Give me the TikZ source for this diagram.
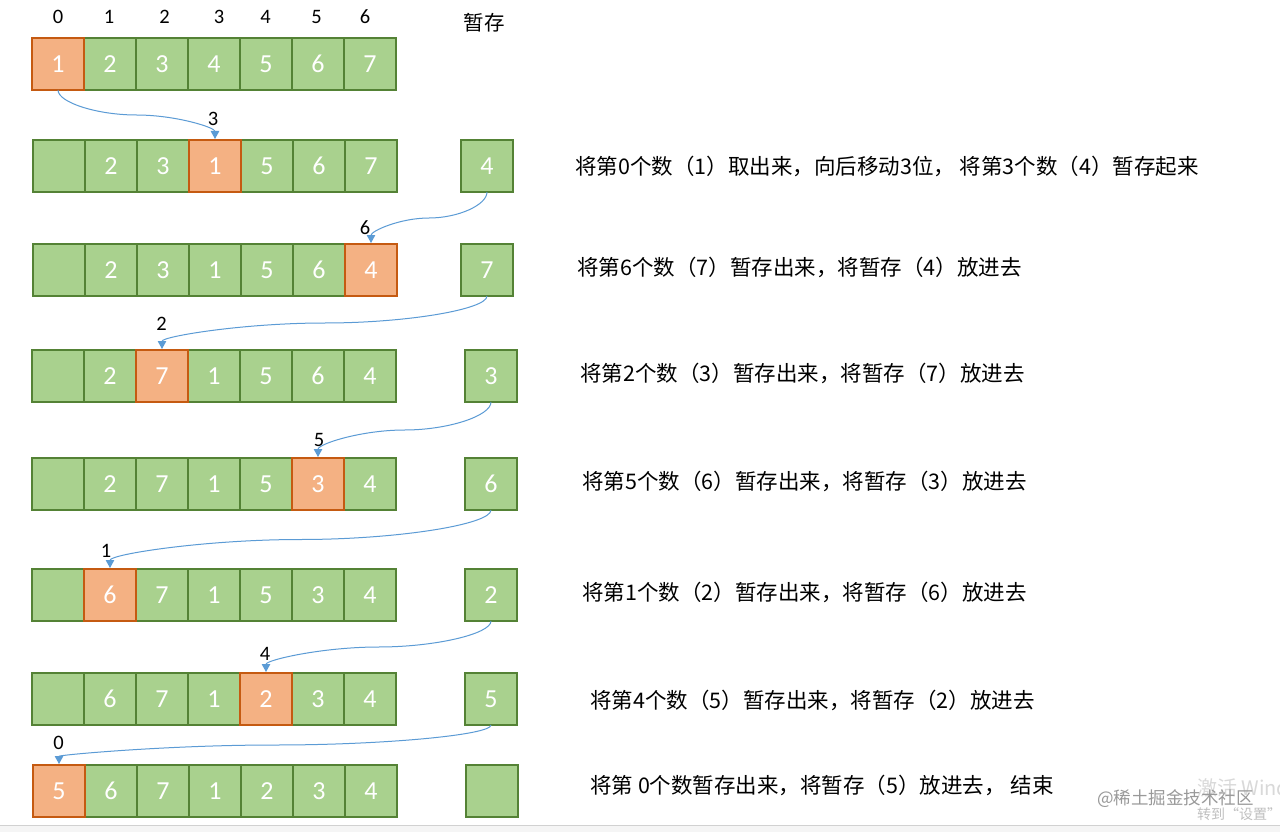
\documentclass[tikz,border=0pt]{standalone}
\usepackage{fontspec}
\setmainfont{Carlito}
\newfontfamily\cjk{Noto Sans CJK SC}
\usetikzlibrary{arrows.meta,calc}
\definecolor{gfill}{HTML}{A9D18E}
\definecolor{gline}{HTML}{548235}
\definecolor{ofill}{HTML}{F4B183}
\definecolor{oline}{HTML}{C55A11}
\definecolor{ablue}{HTML}{5B9BD5}
\begin{document}
\begin{tikzpicture}[x=1pt,y=-1pt,
  cellg/.style={draw=gline, fill=gfill, line width=2pt, minimum size=52pt, inner sep=0pt, outer sep=0pt, text=white, font=\fontsize{26}{26}\selectfont},
  cello/.style={cellg, draw=oline, fill=ofill},
  idx/.style={font=\fontsize{20.5}{21}\selectfont, text=black, inner sep=0pt},
  desc/.style={font=\cjk\fontsize{21.5}{22}\selectfont, anchor=west, inner sep=0pt, text=black},
  conn/.style={draw=ablue, line width=1pt, shorten >=1pt, -{Triangle[width=8.5pt,length=8pt]}},
]
\useasboundingbox (0,0) rectangle (1280,832);
\fill[white] (0,0) rectangle (1280,832);
\fill[black!4] (0,825) rectangle (1280,832);
\draw[black!18, line width=1pt] (0,825) -- (1280,825);

% index labels
\foreach \t/\x [count=\k from 0] in {0/58,1/109,2/164.5,3/219,4/265.5,5/316.5,6/365}
  \node[idx] (i\k) at (\x,17) {\t};
\node[font=\cjk\fontsize{20.5}{21}\selectfont, inner sep=0pt] (tmp) at (484,23) {暂存};

% rows
\foreach \r/\y/\x/\o/\vals in {
  1/64/32/0/{1,2,3,4,5,6,7},
  2/166/33/3/{{},2,3,1,5,6,7},
  3/270/33/6/{{},2,3,1,5,6,4},
  4/376/32/2/{{},2,7,1,5,6,4},
  5/484/32/5/{{},2,7,1,5,3,4},
  6/595/32/1/{{},6,7,1,5,3,4},
  7/699/32/4/{{},6,7,1,2,3,4},
  8/791/33/0/{5,6,7,1,2,3,4}}{
  \foreach \v [count=\j from 0] in \vals {
    \ifnum\j=\o\relax\else
      \node[cellg] (r\r c\j) at ({\x+26+52*\j},\y) {\v};
    \fi
  }
  \foreach \v [count=\j from 0] in \vals {
    \ifnum\j=\o\relax
      \node[cello] (r\r c\j) at ({\x+26+52*\j},\y) {\v};
    \fi
  }
}

% temp boxes
\foreach \r/\x/\y/\v in {2/487/166/4, 3/487/270/7, 4/491/376/3, 5/491/484/6, 6/491/595/2, 7/491/699/5, 8/492/791/{}}
  \node[cellg] (t\r) at (\x,\y) {\v};

% arrow labels
\node[idx] (l1) at (213,119) {3};
\node[idx] (l2) at (365,228) {6};
\node[idx] (l3) at (161.5,324) {2};
\node[idx] (l4) at (319,440) {5};
\node[idx] (l5) at (106,551) {1};
\node[idx] (l6) at (265,654) {4};
\node[idx] (l7) at (58.5,743) {0};

% connectors
\foreach \s/\e [count=\k] in {r1c0/r2c3, t2/r3c6, t3/r4c2, t4/r5c5, t5/r6c1, t6/r7c4, t7/r8c0}{
  \coordinate (m\k) at ($(\s.south)!0.5!(\e.north)$);
  \draw[conn] (\s.south)
     .. controls ($(\s.south)!0.5!(\s.south|-m\k)$) and ($(\s.south|-m\k)!0.5!(m\k)$) .. (m\k)
     .. controls ($(m\k)!0.5!(\e.north|-m\k)$) and ($(\e.north|-m\k)!0.5!(\e.north)$) .. (\e.north);
}

% descriptions
\node[desc] (d2) at (575,166) {将第0个数（1）取出来，向后移动3位， 将第3个数（4）暂存起来};
\node[desc] (d3) at (577,267) {将第6个数（7）暂存出来，将暂存（4）放进去};
\node[desc] (d4) at (580,373) {将第2个数（3）暂存出来，将暂存（7）放进去};
\node[desc] (d5) at (582,481) {将第5个数（6）暂存出来，将暂存（3）放进去};
\node[desc] (d6) at (582,592) {将第1个数（2）暂存出来，将暂存（6）放进去};
\node[desc] (d7) at (590,700) {将第4个数（5）暂存出来，将暂存（2）放进去};
\node[desc] (d8) at (590,785) {将第 0个数暂存出来，将暂存（5）放进去， 结束};

% watermarks
\node[anchor=west, inner sep=0pt, text=black!15, font=\cjk\fontsize{20}{20}\selectfont] (win1) at (1197,788) {激活 Windows};
\node[anchor=west, inner sep=0pt, text=black!25, font=\cjk\fontsize{14}{14}\selectfont] (win2) at (1197,814) {转到“设置”以激活 Windows。};
\node[anchor=west, inner sep=0pt, text=black!40, font=\cjk\fontsize{17.5}{18}\selectfont] (wm) at (1097,799) {@稀土掘金技术社区};
\end{tikzpicture}
\end{document}
